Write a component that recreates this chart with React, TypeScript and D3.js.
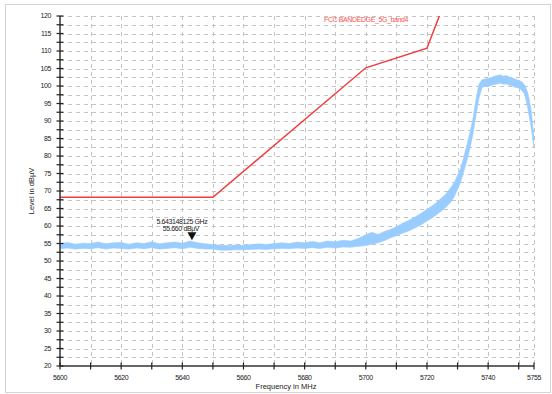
import React from "react";
import * as d3 from "d3";

const traceFreq: number[] = [
  5600, 5602.5, 5605, 5607.5, 5610, 5612.5, 5615, 5617.5, 5620, 5622.5,
  5625, 5627.5, 5630, 5632.5, 5635, 5637.5, 5640, 5642.5, 5645, 5647.5,
  5650, 5652.5, 5655, 5657.5, 5660, 5662.5, 5665, 5667.5, 5670, 5672.5,
  5675, 5677.5, 5680, 5682.5, 5685, 5687.5, 5690, 5692.5, 5695, 5697.5,
  5700, 5702, 5704, 5706, 5708, 5710, 5712, 5714, 5716, 5718,
  5720, 5722, 5724, 5726, 5728,
  5729, 5730, 5731, 5732, 5733, 5734, 5735, 5736, 5737, 5738,
  5739, 5740, 5741, 5742, 5743, 5744, 5745, 5746, 5747, 5748,
  5749, 5750, 5751, 5752, 5753, 5754, 5755,
];
const traceLow: number[] = [
  53.5, 53.7, 53.4, 53.6, 53.5, 53.8, 53.4, 53.7, 53.6, 53.4,
  53.7, 53.5, 53.8, 53.4, 53.6, 53.8, 53.5, 53.9, 53.6, 53.4,
  53.4, 53.1, 53.1, 53.2, 53.2, 53.3, 53.4, 53.3, 53.5, 53.6,
  53.5, 53.7, 53.6, 53.8, 53.6, 53.9, 53.7, 54.0, 53.9, 54.2,
  54.4, 54.8, 55.2, 55.8, 56.6, 57.2, 57.9, 58.6, 59.4, 60.3,
  61.4, 62.5, 63.8, 65.2, 67.0,
  68.5, 70.5, 72.5, 75.5, 78.5, 82.0, 86.0, 91.5, 96.5, 99.5,
  100.0, 99.8, 100.2, 100.4, 100.6, 100.8, 100.5, 100.6, 100.2, 100.0,
  99.6, 99.4, 98.8, 97.5, 93.5, 88.5, 82.5,
];
const traceHigh: number[] = [
  54.9, 55.3, 54.8, 55.1, 55.0, 55.4, 54.9, 55.2, 55.3, 54.8,
  55.2, 55.0, 55.5, 54.9, 55.2, 55.4, 55.1, 55.7, 55.2, 54.9,
  54.7, 54.5, 54.4, 54.6, 54.5, 54.7, 54.9, 54.7, 55.0, 55.2,
  55.0, 55.4, 55.2, 55.6, 55.2, 55.7, 55.5, 55.9, 55.7, 56.4,
  57.5, 58.2, 57.6, 58.4, 59.0, 59.8, 60.8, 61.6, 62.5, 63.6,
  64.8, 65.9, 67.4, 69.0, 71.2,
  72.5, 74.5, 76.5, 79.5, 83.0, 86.5, 90.5, 96.0, 100.5, 101.8,
  102.0, 102.2, 102.4, 102.8, 103.0, 103.2, 102.8, 103.0, 102.5, 102.3,
  101.9, 101.6, 101.2, 100.2, 98.0, 93.5, 85.5,
];

const limitFreq: number[] = [5600, 5650, 5700, 5720, 5725];
const limitLevel: number[] = [68.2, 68.2, 105.2, 110.8, 122.2];

const yMajorTicks: number[] = [20, 25, 30, 35, 40, 45, 50, 55, 60, 65, 70, 75, 80, 85, 90, 95, 100, 105, 110, 115, 120];
const yGridTicks: number[] = [22.5, 25, 27.5, 30, 32.5, 35, 37.5, 40, 42.5, 45, 47.5, 50, 52.5, 55, 57.5, 60, 62.5, 65, 67.5, 70, 72.5, 75, 77.5, 80, 82.5, 85, 87.5, 90, 92.5, 95, 97.5, 100, 102.5, 105, 107.5, 110, 112.5, 115, 117.5, 120];
const xLabelTicks: number[] = [5600, 5620, 5640, 5660, 5680, 5700, 5720, 5740, 5755];
const xAllTicks: number[] = [5600, 5610, 5620, 5630, 5640, 5650, 5660, 5670, 5680, 5690, 5700, 5710, 5720, 5730, 5740, 5750, 5755];

const markerFreq = 5643.148125;
const markerLevel = 55.66;
const markerLine1 = "5.643148125 GHz";
const markerLine2 = "55.660 dBµV";
const limitName = "FCC BANDEDGE_5G_band4";
const xTitle = "Frequency in MHz";
const yTitle = "Level in dBµV";

export default function App() {
  const W = 552, H = 394;
  const x = d3.scaleLinear().domain([5600, 5755]).range([60, 534]);
  const y = d3.scaleLinear().domain([20, 120]).range([366, 16]);
  const font = "'Liberation Sans', Arial, sans-serif";

  const traceData = traceFreq.map((f, i) => ({ f, lo: traceLow[i], hi: traceHigh[i] }));
  const area = d3.area<{ f: number; lo: number; hi: number }>()
    .x(d => x(d.f)).y0(d => y(d.lo)).y1(d => y(d.hi));
  const limitData = limitFreq.map((f, i) => ({ f, v: limitLevel[i] }));
  const line = d3.line<{ f: number; v: number }>().x(d => x(d.f)).y(d => y(d.v));

  const mx = x(markerFreq);
  const my = y(markerLevel);

  return (
    <svg width={W} height={H} style={{ position: "absolute", left: 0, top: 0, background: "#fff" }}>
      <defs>
        <clipPath id="plotClip">
          <rect x={x(5600)} y={y(120)} width={x(5755) - x(5600)} height={y(20) - y(120)} />
        </clipPath>
      </defs>
      <rect x={5.5} y={4.5} width={545} height={388} fill="#fff" stroke="#d4d4d4" strokeWidth={1} />
      {yGridTicks.map(t => (
        <line key={"hg" + t} x1={x(5600)} x2={x(5755)} y1={Math.round(y(t)) + 0.5} y2={Math.round(y(t)) + 0.5}
          stroke="#c4c4c4" strokeWidth={1} strokeDasharray="4,4" />
      ))}
      {xAllTicks.slice(1).map(t => (
        <line key={"vg" + t} x1={Math.round(x(t)) + 0.5} x2={Math.round(x(t)) + 0.5} y1={y(120)} y2={y(20)}
          stroke="#c4c4c4" strokeWidth={1} strokeDasharray="4,4" />
      ))}
      <g clipPath="url(#plotClip)">
        <path d={area(traceData) || ""} fill="#99ccff" stroke="#99ccff" strokeWidth={0.6} />
        <path d={line(limitData) || ""} fill="none" stroke="#f03c3c" strokeWidth={1.5} />
      </g>
      <line x1={x(5600)} x2={x(5600)} y1={y(120)} y2={y(20)} stroke="#333" strokeWidth={1.5} />
      <line x1={x(5600)} x2={x(5755)} y1={y(20)} y2={y(20)} stroke="#333" strokeWidth={1.5} />
      {yGridTicks.concat([20]).map(t => (
        <line key={"yt" + t} x1={x(5600) - 3.5} x2={x(5600) + 3.5} y1={y(t)} y2={y(t)} stroke="#222" strokeWidth={1.2} />
      ))}
      {yMajorTicks.map(t => (
        <text key={"yl" + t} x={51} y={y(t)} dy="0.35em" textAnchor="end" fontFamily={font} fontSize={7} letterSpacing={-0.4} fill="#222">{t}</text>
      ))}
      {xAllTicks.map(t => (
        <line key={"xt" + t} x1={x(t)} x2={x(t)} y1={y(20) - 3.5} y2={y(20) + 3.5} stroke="#222" strokeWidth={1.2} />
      ))}
      {xLabelTicks.map(t => (
        <text key={"xl" + t} x={x(t)} y={380} textAnchor="middle" fontFamily={font} fontSize={7} letterSpacing={-0.4} fill="#222">{t}</text>
      ))}
      <text x={286} y={389} textAnchor="middle" fontFamily={font} fontSize={7.5} fill="#222">{xTitle}</text>
      <text transform={`translate(34,${(y(120) + y(20)) / 2}) rotate(-90)`} textAnchor="middle" fontFamily={font} fontSize={7.5} fill="#222">{yTitle}</text>
      <text x={366} y={21.5} textAnchor="middle" fontFamily={font} fontSize={7} letterSpacing={-0.4} fill="#ff5050">{limitName}</text>
      <path d={`M${mx - 4.5},${my - 9} L${mx + 4.5},${my - 9} L${mx},${my - 1} Z`} fill="#111" />
      <text x={mx - 10} y={223.5} textAnchor="middle" fontFamily={font} fontSize={7} letterSpacing={-0.4} fill="#222">{markerLine1}</text>
      <text x={mx - 11} y={231} textAnchor="middle" fontFamily={font} fontSize={7} letterSpacing={-0.4} fill="#222">{markerLine2}</text>
    </svg>
  );
}
